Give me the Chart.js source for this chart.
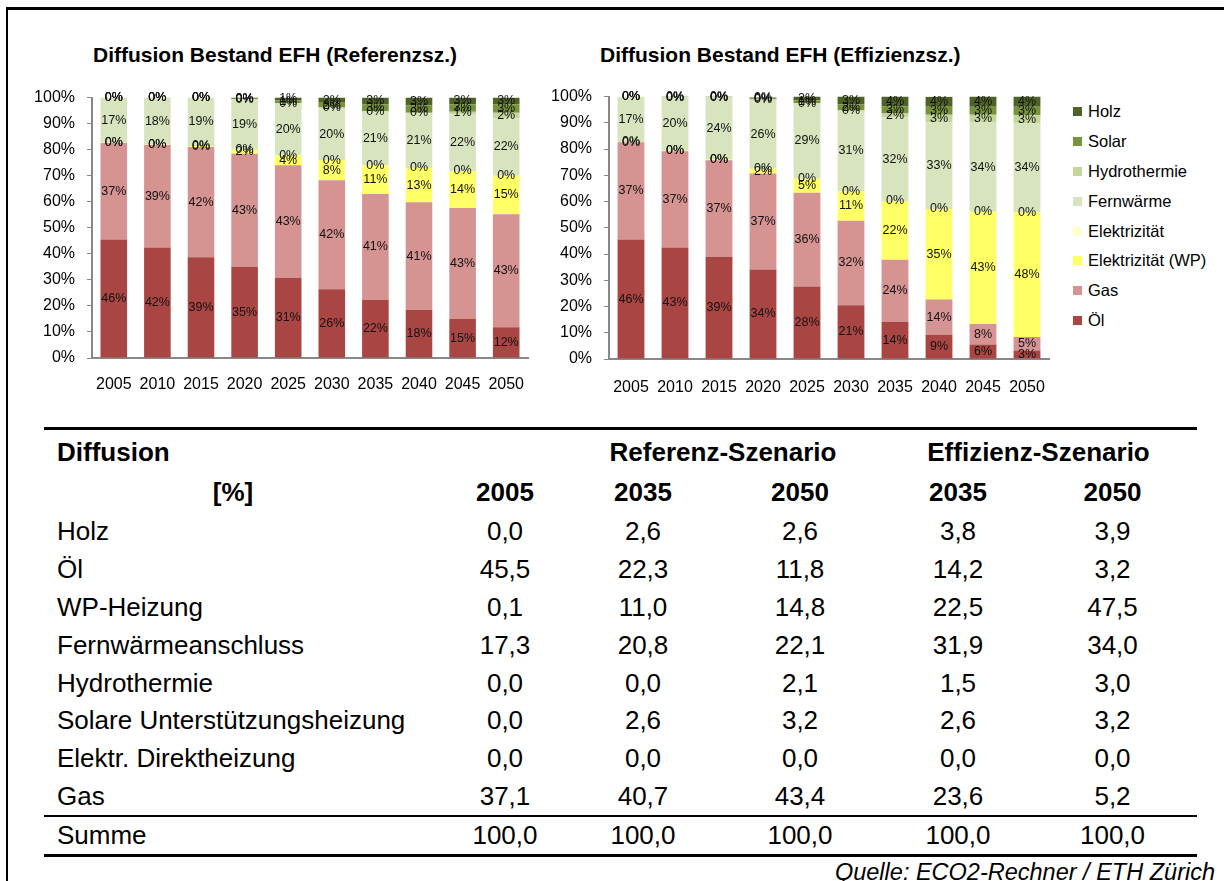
<!DOCTYPE html>
<html><head><meta charset="utf-8">
<script src="https://cdn.jsdelivr.net/npm/chart.js@4/dist/chart.umd.min.js"></script>
<style>
html,body{margin:0;padding:0;background:#fff;}
body{width:1224px;height:881px;position:relative;overflow:hidden;font-family:"Liberation Sans",Arial,sans-serif;color:#000;}
.frameTop{position:absolute;left:7px;top:7px;width:1217px;height:3px;background:#000;}
.frameLeft{position:absolute;left:6px;top:7px;width:2px;height:874px;background:#000;}
.title{position:absolute;top:43px;font-weight:bold;font-size:21px;white-space:nowrap;}
.cw{position:absolute;}
#legend{position:absolute;left:1073px;top:97px;font-size:16.5px;}
#legend .it{height:29.8px;display:flex;align-items:center;white-space:nowrap;}
#legend .sw{width:9px;height:9px;margin-right:6px;}
table{position:absolute;left:44px;top:427px;width:1153px;border-collapse:collapse;table-layout:fixed;font-size:26px;}
td{padding:0;text-align:center;white-space:nowrap;}
td.lab{text-align:left;padding-left:13px;}
tr.h1 td{font-weight:bold;height:45px;border-top:3px solid #000;vertical-align:middle;}
tr.h2 td{font-weight:bold;height:34px;padding-bottom:4px;}
tr.d td{height:37.8px;}
tr.last td{border-bottom:2px solid #000;}
tr.sum td{height:37px;border-bottom:3px solid #000;}
#quelle{position:absolute;right:9px;top:859px;font-style:italic;font-size:23.5px;white-space:nowrap;}
</style></head><body>
<div class="frameTop"></div><div class="frameLeft"></div>
<div class="title" style="left:93px">Diffusion Bestand EFH (Referenzsz.)</div>
<div class="title" style="left:600px">Diffusion Bestand EFH (Effizienzsz.)</div>
<div class="cw" style="left:20px;top:76px;width:520px;height:320px"><canvas id="c1" width="520" height="320"></canvas></div>
<div class="cw" style="left:540px;top:75px;width:520px;height:322px"><canvas id="c2" width="520" height="322"></canvas></div>
<div id="legend"></div>
<table id="tab"></table>
<div id="quelle">Quelle: ECO2-Rechner / ETH Zürich</div>
<script>
// ---- chart data ----
const years = ['2005','2010','2015','2020','2025','2030','2035','2040','2045','2050'];
const seriesNames = ['Öl','Gas','Elektrizität (WP)','Elektrizität','Fernwärme','Hydrothermie','Solar','Holz'];
const seriesColors = ['#a94644','#d59391','#ffff66','#ffffcc','#d7e4bd','#c3d69b','#77933c','#4f6228'];

// Referenzszenario
const refOel   = [45.5, 42.4, 38.7, 35.0, 30.8, 26.4, 22.3, 18.4, 15.0, 11.8];
const refGas   = [37.1, 39.4, 42.3, 43.4, 43.2, 41.9, 40.7, 41.4, 42.6, 43.4];
const refWP    = [0.1, 0.1, 0.4, 1.6, 3.9, 7.7, 11.0, 13.2, 14.2, 14.8];
const refElek  = [0, 0, 0, 0, 0, 0, 0, 0, 0, 0];
const refFern  = [17.3, 18.0, 18.6, 19.4, 20.0, 20.0, 20.8, 21.0, 21.8, 22.1];
const refHydro = [0, 0, 0, 0, 0, 0.2, 0, 0.2, 1.0, 2.1];
const refSolar = [0, 0, 0, 0.2, 1.0, 1.8, 2.6, 2.9, 2.8, 3.2];
const refHolz  = [0, 0.1, 0, 0.4, 1.1, 2.0, 2.6, 2.9, 2.6, 2.6];

// Effizienzszenario
const effOel   = [45.5, 42.5, 39.0, 34.1, 27.6, 20.5, 14.2, 9.2, 5.5, 3.2];
const effGas   = [37.1, 36.7, 36.7, 36.6, 35.8, 32.2, 23.6, 13.5, 7.8, 5.2];
const effWP    = [0.1, 0.2, 0.4, 1.8, 5.3, 11.3, 22.4, 34.5, 42.8, 47.5];
const effElek  = [0, 0, 0, 0, 0, 0, 0, 0, 0, 0];
const effFern  = [17.3, 20.4, 23.7, 26.4, 28.8, 30.7, 31.9, 32.9, 34.0, 34.0];
const effHydro = [0, 0, 0, 0, 0, 0, 1.5, 3.0, 3.0, 3.0];
const effSolar = [0, 0, 0, 0.4, 1.0, 2.3, 2.6, 3.0, 3.0, 3.2];
const effHolz  = [0, 0.2, 0.2, 0.4, 1.5, 3.0, 3.8, 3.8, 3.9, 3.9];

const yTicks = [0,10,20,30,40,50,60,70,80,90,100];

// ---- table data ----
const tabRows   = ['Holz','Öl','WP-Heizung','Fernwärmeanschluss','Hydrothermie','Solare Unterstützungsheizung','Elektr. Direktheizung','Gas','Summe'];
const tab2005   = ['0,0','45,5','0,1','17,3','0,0','0,0','0,0','37,1','100,0'];
const tabRef2035= ['2,6','22,3','11,0','20,8','0,0','2,6','0,0','40,7','100,0'];
const tabRef2050= ['2,6','11,8','14,8','22,1','2,1','3,2','0,0','43,4','100,0'];
const tabEff2035= ['3,8','14,2','22,5','31,9','1,5','2,6','0,0','23,6','100,0'];
const tabEff2050= ['3,9','3,2','47,5','34,0','3,0','3,2','0,0','5,2','100,0'];
const tabHeadYears = ['2005','2035','2050','2035','2050'];

const FONT = '"Liberation Sans", Arial, sans-serif';

const labelPlugin = {
  id: 'segLabels',
  afterDatasetsDraw(chart) {
    const ctx = chart.ctx;
    ctx.save();
    ctx.font = '12.5px ' + FONT;
    ctx.fillStyle = '#111';
    ctx.textAlign = 'center';
    ctx.textBaseline = 'middle';
    chart.data.datasets.forEach((ds, di) => {
      const meta = chart.getDatasetMeta(di);
      meta.data.forEach((el, i) => {
        const v = ds.data[i];
        const cy = (el.y + el.base) / 2;
        ctx.fillText(Math.round(v) + '%', el.x, cy);
      });
    });
    ctx.restore();
  }
};

function makeChart(id, series, yWidth, padRight, xPad) {
  const datasets = series.map((d, k) => ({
    label: seriesNames[k], data: d, backgroundColor: seriesColors[k],
    borderWidth: 0, categoryPercentage: 1.0, barPercentage: 0.61
  }));
  return new Chart(document.getElementById(id), {
    type: 'bar',
    data: { labels: years, datasets },
    plugins: [labelPlugin],
    options: {
      responsive: false, animation: false, devicePixelRatio: 1,
      layout: { padding: { top: 0, right: padRight, left: 0, bottom: 0 } },
      plugins: { legend: { display: false }, tooltip: { enabled: false } },
      scales: {
        x: {
          stacked: true,
          grid: { display: false },
          border: { display: true, color: '#888', width: 2 },
          ticks: { color: '#000', font: { size: 16, family: FONT }, padding: xPad, maxRotation: 0 },
          afterFit(s) { s.height = 38; }
        },
        y: {
          stacked: true, min: 0, max: 100,
          afterBuildTicks(s) { s.ticks = yTicks.map(v => ({ value: v })); },
          grid: { drawOnChartArea: false, drawTicks: true, tickLength: 5, color: '#888', lineWidth: 1 },
          border: { display: true, color: '#888', width: 2 },
          ticks: { color: '#000', font: { size: 16, family: FONT }, padding: 12, callback: v => v + '%' },
          afterFit(s) { s.width = yWidth; }
        }
      }
    }
  });
}

makeChart('c1', [refOel, refGas, refWP, refElek, refFern, refHydro, refSolar, refHolz], 72, 12, 9);
makeChart('c2', [effOel, effGas, effWP, effElek, effFern, effHydro, effSolar, effHolz], 69, 11, 11);

// legend (top: Holz ... bottom: Öl)
const lg = document.getElementById('legend');
for (let k = seriesNames.length - 1; k >= 0; k--) {
  const it = document.createElement('div'); it.className = 'it';
  it.innerHTML = '<span class="sw" style="background:' + seriesColors[k] + '"></span><span>' + seriesNames[k] + '</span>';
  lg.appendChild(it);
}

// table
const tab = document.getElementById('tab');
let html = '<colgroup><col style="width:392px"><col style="width:138px"><col style="width:138px"><col style="width:176px"><col style="width:140px"><col style="width:169px"></colgroup>';
html += '<tr class="h1"><td class="lab">Diffusion</td><td></td><td colspan="2" style="padding-right:16px">Referenz-Szenario</td><td colspan="2" style="padding-right:8px">Effizienz-Szenario</td></tr>';
html += '<tr class="h2"><td style="padding-right:14px">[%]</td>' + tabHeadYears.map(y => '<td>' + y + '</td>').join('') + '</tr>';
tabRows.forEach((r, i) => {
  const cls = (i === tabRows.length - 1) ? 'sum' : (i === tabRows.length - 2 ? 'd last' : 'd');
  html += '<tr class="' + cls + '"><td class="lab">' + r + '</td><td>' + tab2005[i] + '</td><td>' + tabRef2035[i] + '</td><td>' + tabRef2050[i] + '</td><td>' + tabEff2035[i] + '</td><td>' + tabEff2050[i] + '</td></tr>';
});
tab.innerHTML = html;
</script>
</body></html>
